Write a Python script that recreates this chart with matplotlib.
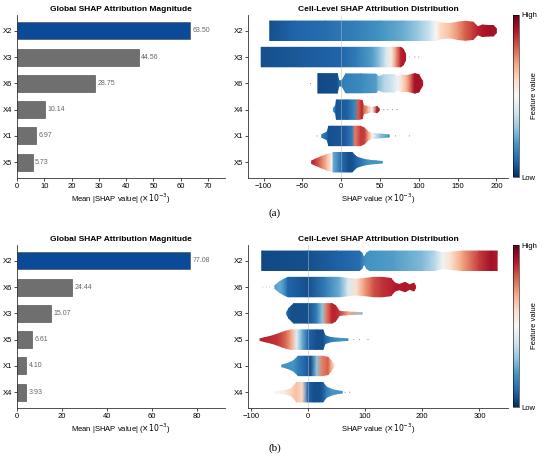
import numpy as np
import matplotlib
matplotlib.use("Agg")
import matplotlib.pyplot as plt
from matplotlib.cm import ScalarMappable
from matplotlib.colors import Normalize

plt.rcParams['font.family'] = ['Liberation Sans', 'DejaVu Sans']
plt.rcParams['font.size'] = 5.5

# ---------------- panel (a) ----------------
feat_a = ['X2', 'X3', 'X6', 'X4', 'X1', 'X5']
mean_a = [63.50, 44.56, 28.75, 10.14, 6.97, 5.73]

# beeswarm outline per feature: x (SHAP x1e-3), half width, feature value (0 low .. 1 high)
a_x2_x = [-92, -60, -20, 20, 50, 80, 100, 115, 122, 128, 140, 150, 160, 170, 176, 182, 190, 196, 200]
a_x2_w = [0.37, 0.37, 0.37, 0.37, 0.37, 0.37, 0.37, 0.37, 0.37, 0.3, 0.27, 0.33, 0.36, 0.33, 0.15, 0.22, 0.2, 0.2, 0.08]
a_x2_c = [0.06, 0.1, 0.12, 0.16, 0.2, 0.25, 0.32, 0.4, 0.5, 0.6, 0.65, 0.72, 0.8, 0.85, 0.88, 0.9, 0.92, 0.92, 0.92]

a_x3_x = [-103, -50, 0, 20, 40, 50, 58, 65, 72, 77, 80, 83]
a_x3_w = [0.37, 0.37, 0.37, 0.37, 0.37, 0.37, 0.37, 0.37, 0.37, 0.37, 0.3, 0.12]
a_x3_c = [0.06, 0.08, 0.1, 0.15, 0.22, 0.3, 0.42, 0.55, 0.75, 0.88, 0.9, 0.9]

a_x6_x = [-30, -5, -3, 1, 6, 25, 45, 48, 55, 68, 73, 78, 85, 92, 95, 100, 105]
a_x6_w = [0.37, 0.37, 0.1, 0.1, 0.36, 0.36, 0.35, 0.25, 0.33, 0.33, 0.25, 0.32, 0.3, 0.35, 0.37, 0.33, 0.08]
a_x6_c = [0.05, 0.06, 0.1, 0.15, 0.16, 0.18, 0.22, 0.28, 0.35, 0.42, 0.48, 0.58, 0.68, 0.85, 0.92, 0.92, 0.9]

a_x4_x = [-10, -7, -6, 8, 18, 22, 27, 29, 35, 40, 46, 49]
a_x4_w = [0.05, 0.15, 0.37, 0.37, 0.37, 0.37, 0.35, 0.15, 0.12, 0.08, 0.12, 0.04]
a_x4_c = [0.2, 0.1, 0.07, 0.09, 0.18, 0.8, 0.88, 0.8, 0.65, 0.5, 0.88, 0.9]

a_x1_x = [-25, -18, -16, 5, 14, 18, 25, 30, 35, 40, 50, 62]
a_x1_w = [0.05, 0.15, 0.37, 0.37, 0.37, 0.37, 0.37, 0.3, 0.15, 0.1, 0.07, 0.04]
a_x1_c = [0.15, 0.1, 0.06, 0.08, 0.15, 0.75, 0.85, 0.85, 0.7, 0.5, 0.3, 0.2]

a_x5_x = [-38, -33, -25, -18, -12, -10, 0, 10, 14, 20, 28, 35, 45, 53]
a_x5_w = [0.05, 0.12, 0.22, 0.3, 0.35, 0.37, 0.37, 0.37, 0.37, 0.2, 0.12, 0.08, 0.05, 0.03]
a_x5_c = [0.88, 0.85, 0.75, 0.65, 0.5, 0.25, 0.12, 0.06, 0.06, 0.1, 0.15, 0.2, 0.2, 0.2]

swarm_a = [(a_x2_x, a_x2_w, a_x2_c), (a_x3_x, a_x3_w, a_x3_c), (a_x6_x, a_x6_w, a_x6_c),
           (a_x4_x, a_x4_w, a_x4_c), (a_x1_x, a_x1_w, a_x1_c), (a_x5_x, a_x5_w, a_x5_c)]
# isolated points (x, feature value) per feature
dots_a = [[], [(88, 0.3), (95, 0.2), (100, 0.2)], [(-40, 0.2)],
          [(55, 0.2), (60, 0.2), (66, 0.2), (72, 0.2)], [(-31, 0.2), (70, 0.2), (88, 0.2)], []]

# ---------------- panel (b) ----------------
feat_b = ['X2', 'X6', 'X3', 'X5', 'X1', 'X4']
mean_b = [77.08, 24.44, 15.07, 6.61, 4.10, 3.93]

b_x2_x = [-81, 0, 50, 90, 94, 98, 103, 108, 150, 200, 222, 235, 250, 270, 300, 320, 331]
b_x2_w = [0.37, 0.37, 0.37, 0.37, 0.3, 0.12, 0.3, 0.37, 0.37, 0.37, 0.37, 0.3, 0.33, 0.37, 0.37, 0.37, 0.37]
b_x2_c = [0.05, 0.06, 0.09, 0.12, 0.15, 0.18, 0.2, 0.2, 0.22, 0.28, 0.36, 0.48, 0.58, 0.7, 0.85, 0.92, 0.9]

b_x6_x = [-58, -50, -42, -35, 0, 30, 55, 70, 85, 100, 115, 130, 145, 152, 160, 170, 178, 185, 188]
b_x6_w = [0.05, 0.2, 0.3, 0.37, 0.37, 0.37, 0.37, 0.33, 0.3, 0.33, 0.37, 0.37, 0.33, 0.15, 0.1, 0.18, 0.08, 0.15, 0.05]
b_x6_c = [0.22, 0.25, 0.2, 0.1, 0.06, 0.15, 0.25, 0.42, 0.58, 0.72, 0.82, 0.86, 0.88, 0.9, 0.9, 0.9, 0.9, 0.9, 0.9]

b_x3_x = [-37, -33, -28, -25, 0, 15, 25, 32, 42, 48, 55, 70, 95]
b_x3_w = [0.05, 0.2, 0.3, 0.37, 0.37, 0.37, 0.37, 0.37, 0.37, 0.3, 0.08, 0.05, 0.03]
b_x3_c = [0.1, 0.08, 0.06, 0.06, 0.06, 0.15, 0.3, 0.75, 0.88, 0.88, 0.85, 0.7, 0.3]

b_x5_x = [-84, -75, -65, -55, -45, -38, -30, -20, -10, 0, 15, 26, 30, 40, 55, 70]
b_x5_w = [0.03, 0.08, 0.13, 0.2, 0.28, 0.33, 0.37, 0.37, 0.37, 0.37, 0.37, 0.37, 0.15, 0.08, 0.05, 0.03]
b_x5_c = [0.88, 0.88, 0.87, 0.86, 0.82, 0.78, 0.7, 0.45, 0.25, 0.1, 0.06, 0.06, 0.1, 0.15, 0.2, 0.2]

b_x1_x = [-46, -35, -25, -17, -5, 5, 15, 25, 35, 40, 45]
b_x1_w = [0.03, 0.1, 0.2, 0.37, 0.37, 0.37, 0.37, 0.37, 0.33, 0.2, 0.05]
b_x1_c = [0.2, 0.2, 0.2, 0.15, 0.1, 0.06, 0.3, 0.75, 0.8, 0.7, 0.6]

b_x4_x = [-58, -40, -28, -20, -10, 0, 10, 20, 26, 32, 40, 50, 60]
b_x4_w = [0.03, 0.06, 0.15, 0.37, 0.37, 0.37, 0.37, 0.37, 0.37, 0.2, 0.12, 0.06, 0.03]
b_x4_c = [0.5, 0.55, 0.62, 0.65, 0.6, 0.1, 0.06, 0.06, 0.08, 0.15, 0.2, 0.2, 0.2]

swarm_b = [(b_x2_x, b_x2_w, b_x2_c), (b_x6_x, b_x6_w, b_x6_c), (b_x3_x, b_x3_w, b_x3_c),
           (b_x5_x, b_x5_w, b_x5_c), (b_x1_x, b_x1_w, b_x1_c), (b_x4_x, b_x4_w, b_x4_c)]
dots_b = [[], [(-79, 0.3), (-73, 0.3), (-67, 0.3)], [],
          [(80, 0.2), (90, 0.2), (105, 0.2)], [], [(65, 0.2), (73, 0.2)]]

cmap = plt.get_cmap('RdBu_r')
fig = plt.figure(figsize=(5.5, 4.58), dpi=100)


def style(ax):
    ax.spines['top'].set_visible(False)
    ax.spines['right'].set_visible(False)
    for s in ['left', 'bottom']:
        ax.spines[s].set_linewidth(0.6)
        ax.spines[s].set_color('#333333')
    ax.tick_params(length=2, width=0.5, labelsize=5.5, pad=1.5)


def bar_panel(rect, feats, vals, xmax, xticks):
    ax = fig.add_axes(rect)
    pos = np.arange(len(feats))[::-1]
    cols = ['#0b4a98'] + ['#6f6f6f'] * (len(feats) - 1)
    ax.barh(pos, vals, height=0.65, color=cols, edgecolor='#444444', linewidth=0.4)
    for p, v in zip(pos, vals):
        ax.text(v + xmax * 0.012, p, f'{v:.2f}', va='center', ha='left', fontsize=5, color='#666666')
    ax.set_yticks(pos)
    ax.set_yticklabels(feats)
    ax.set_ylim(-0.6, 5.6)
    ax.set_xlim(0, xmax)
    ax.set_xticks(xticks)
    ax.set_xlabel(r'Mean |SHAP value| ($\times10^{-3}$)', fontsize=5.5, labelpad=1.5)
    ax.set_title('Global SHAP Attribution Magnitude', fontsize=6, fontweight='bold', pad=3)
    style(ax)
    return ax


def swarm_panel(rect, feats, shapes, dots, xlim, xticks):
    ax = fig.add_axes(rect)
    pos = np.arange(len(feats))[::-1]
    ax.axvline(0, color='#bbbbbb', lw=0.5, alpha=0.7, zorder=4)
    for p, (xs, ws, cs), dd in zip(pos, shapes, dots):
        xs = np.array(xs, float)
        ws = np.array(ws, float)
        cs = np.array(cs, float)
        X = np.vstack([xs, xs])
        Y = np.vstack([p - ws, p + ws])
        C = np.vstack([cs, cs])
        ax.pcolormesh(X, Y, C, shading='gouraud', cmap=cmap, vmin=0, vmax=1,
                      edgecolors='none', zorder=2)
        if dd:
            dx = [d[0] for d in dd]
            dc = [d[1] for d in dd]
            ax.scatter(dx, [p] * len(dx), c=dc, cmap=cmap, vmin=0, vmax=1, s=0.6, lw=0, zorder=3)
    ax.set_yticks(pos)
    ax.set_yticklabels(feats)
    ax.set_ylim(-0.6, 5.6)
    ax.set_xlim(*xlim)
    ax.set_xticks(xticks)
    ax.set_xlabel(r'SHAP value ($\times10^{-3}$)', fontsize=5.5, labelpad=1.5)
    ax.set_title('Cell-Level SHAP Attribution Distribution', fontsize=6, fontweight='bold', pad=3)
    style(ax)
    return ax


def colorbar(rect):
    cax = fig.add_axes(rect)
    cb = fig.colorbar(ScalarMappable(norm=Normalize(0, 1), cmap=cmap), cax=cax)
    cb.set_ticks([0, 1])
    cb.set_ticklabels(['Low', 'High'])
    cb.outline.set_linewidth(0.4)
    cax.tick_params(length=0, labelsize=5.5, pad=1.5)
    cb.set_label('Feature value', fontsize=5.5, labelpad=-4)


h = 163 / 458
bar_panel([17 / 550, 1 - 178 / 458, 208 / 550, h], feat_a, mean_a, 63.50 * 1.2, range(0, 80, 10))
swarm_panel([248 / 550, 1 - 178 / 458, 260 / 550, h], feat_a, swarm_a, dots_a, (-120, 215),
            [-100, -50, 0, 50, 100, 150, 200])
colorbar([513 / 550, 1 - 177 / 458, 6 / 550, 162 / 458])

bar_panel([17 / 550, 1 - 408 / 458, 208 / 550, h], feat_b, mean_b, 77.08 * 1.2, range(0, 81, 20))
swarm_panel([248 / 550, 1 - 408 / 458, 260 / 550, h], feat_b, swarm_b, dots_b, (-105, 350),
            [-100, 0, 100, 200, 300])
colorbar([513 / 550, 1 - 407 / 458, 6 / 550, 162 / 458])

fig.text(275 / 550, 1 - 213 / 458, '(a)', ha='center', va='center', fontsize=8,
         family=['Liberation Serif', 'DejaVu Serif'])
fig.text(275 / 550, 1 - 448 / 458, '(b)', ha='center', va='center', fontsize=8,
         family=['Liberation Serif', 'DejaVu Serif'])

fig.savefig('out.png', dpi=100)
